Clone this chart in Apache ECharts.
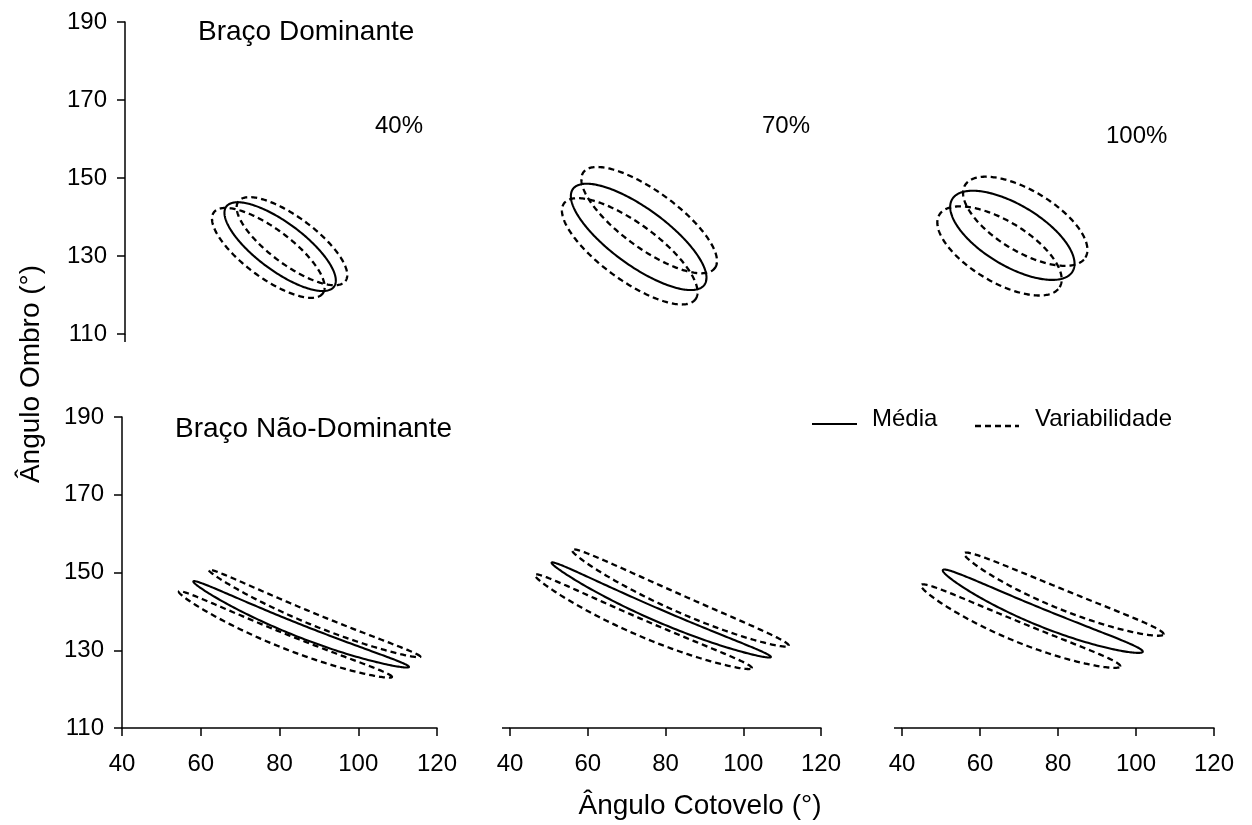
<!DOCTYPE html>
<html>
<head>
<meta charset="utf-8">
<script src="https://cdn.jsdelivr.net/npm/echarts@6/dist/echarts.min.js"></script>
<style>
  html, body { margin: 0; padding: 0; background: #fff; }
  #chart { width: 1252px; height: 825px; }
</style>
</head>
<body>
<div id="chart"></div>
<script>
// Load levels, one column each
const loadLevels = ['40%', '70%', '100%'];
const armNames = ['Braço Dominante', 'Braço Não-Dominante'];
const xTicks = [40, 60, 80, 100, 120];   // Ângulo Cotovelo (°)
const yTicks = [110, 130, 150, 170, 190]; // Ângulo Ombro (°)

// Ellipses in degrees: [elbow centre, shoulder centre, semi-major, semi-minor, tilt, bend]
const domMean = [
  [79.4, 132.4, 17.1, 6.1, -37, 0],
  [73.1, 134.9, 20.9, 7.3, -36, 0],
  [68.3, 135.3, 18.0, 7.8, -31, 0]
];
const domVarUpper = [
  [82.4, 133.8, 17.0, 6.0, -37, 0],
  [75.8, 139.2, 20.9, 7.3, -36, 0],
  [71.6, 138.9, 18.0, 7.8, -31, 0]
];
const domVarLower = [
  [76.4, 130.8, 17.3, 6.2, -37, 0],
  [70.8, 131.2, 20.9, 7.3, -36, 0],
  [65.0, 131.3, 18.0, 7.8, -31, 0]
];
const nonDomMean = [
  [85.5, 136.7, 29.5, 1.6, -21.9, 1.7],
  [78.9, 140.4, 30.7, 1.6, -23.3, 1.6],
  [76.1, 140.1, 27.7, 2.2, -22.3, 1.7]
];
const nonDomVarUpper = [
  [88.9, 139.5, 29.1, 1.5, -22.6, 1.5],
  [83.8, 143.5, 30.5, 2.2, -23.9, 1.4],
  [81.5, 144.5, 27.6, 2.5, -22.2, 1.5]
];
const nonDomVarLower = [
  [81.5, 134.1, 29.2, 1.8, -22.1, 1.7],
  [74.3, 137.4, 30.4, 2.1, -23.3, 1.7],
  [70.4, 136.3, 27.6, 2.5, -22.3, 1.7]
];

const FONT = '"Liberation Sans", Arial, sans-serif';

// Panel layout: two rows (arms) by three columns (load levels)
const colLeft = [[125, 510, 902], [122, 510, 902]];
const colWidth = [[315, 311, 312], [315, 311, 312]];
const rowTop = [22, 417];
const rowHeight = [312, 311];

// Outline of a (possibly bent) ellipse, traced through the axis scales
function ellipseRenderer(dashed) {
  return function (params, api) {
    const cx = api.value(0), cy = api.value(1);
    const a = api.value(2), b = api.value(3);
    const phi = api.value(4) * Math.PI / 180;
    const bend = api.value(5);
    const c = Math.cos(phi), s = Math.sin(phi);
    const pts = [];
    const n = 240;
    for (let k = 0; k < n; k++) {
      const t = 2 * Math.PI * k / n;
      const u = Math.cos(t), v = Math.sin(t);
      const along = a * u;
      const across = b * v - bend * (1 - u * u);
      pts.push(api.coord([cx + along * c - across * s, cy + along * s + across * c]));
    }
    return {
      type: 'polygon',
      shape: { points: pts },
      style: {
        fill: 'none',
        stroke: '#000',
        lineWidth: dashed ? 2.3 : 2.1,
        lineDash: dashed ? [6, 4] : null
      }
    };
  };
}

const grids = [], xAxes = [], yAxes = [], series = [];
const rows = [
  [domMean, domVarUpper, domVarLower],
  [nonDomMean, nonDomVarUpper, nonDomVarLower]
];

const axisLine = { show: true, lineStyle: { color: '#000', width: 1.5 } };
const axisTick = { show: true, inside: false, length: 8, lineStyle: { color: '#000', width: 1.5 } };
const labelStyle = { color: '#000', fontSize: 24, fontFamily: FONT };

for (let r = 0; r < 2; r++) {
  for (let c = 0; c < 3; c++) {
    const idx = grids.length;
    grids.push({
      left: colLeft[r][c], top: rowTop[r],
      width: colWidth[r][c], height: rowHeight[r],
      containLabel: false, outerBoundsMode: 'none'
    });
    const xMin = xTicks[0], xMax = xTicks[xTicks.length - 1];
    const yMin = yTicks[0], yMax = yTicks[yTicks.length - 1];
    // x axis: full in the lower row; in the upper-left panel only the origin tick remains
    let xa;
    if (r === 1) {
      xa = { show: true, axisLine, axisTick, axisLabel: Object.assign({ margin: 24 }, labelStyle) };
    } else if (c === 0) {
      xa = { show: true, axisLine: { show: false },
             axisTick: Object.assign({}, axisTick, { customValues: [xMin] }),
             axisLabel: { show: false } };
    } else {
      xa = { show: false };
    }
    xAxes.push(Object.assign({
      type: 'value', gridIndex: idx, min: xMin, max: xMax, interval: 20,
      splitLine: { show: false }
    }, xa));
    // y axis: full in the left column; lower-row panels keep only the origin tick
    let ya;
    if (c === 0) {
      ya = { show: true, axisLine, axisTick, axisLabel: Object.assign({ margin: 18 }, labelStyle) };
    } else if (r === 1) {
      ya = { show: true, axisLine: { show: false },
             axisTick: Object.assign({}, axisTick, { customValues: [yMin] }),
             axisLabel: { show: false } };
    } else {
      ya = { show: false };
    }
    yAxes.push(Object.assign({
      type: 'value', gridIndex: idx, min: yMin, max: yMax, interval: 20,
      splitLine: { show: false }
    }, ya));
    const [mean, up, low] = rows[r];
    series.push(
      { type: 'custom', name: 'Média', xAxisIndex: idx, yAxisIndex: idx,
        renderItem: ellipseRenderer(false), data: [mean[c]], silent: true },
      { type: 'custom', name: 'Variabilidade', xAxisIndex: idx, yAxisIndex: idx,
        renderItem: ellipseRenderer(true), data: [up[c], low[c]], silent: true }
    );
  }
}

function label(text, x, y, size, extra) {
  return Object.assign({
    type: 'text', x, y,
    style: {
      text, fill: '#000', fontSize: size, fontFamily: FONT,
      textAlign: 'left', textVerticalAlign: 'middle'
    },
    silent: true
  }, extra || {});
}

const graphic = [
  label(armNames[0], 198, 32, 28),
  label(armNames[1], 175, 429, 28),
  label(loadLevels[0], 375, 126, 24),
  label(loadLevels[1], 762, 126, 24),
  label(loadLevels[2], 1106, 136, 24),
  {
    type: 'text', x: 700, y: 806, silent: true,
    style: { text: 'Ângulo Cotovelo (°)', fill: '#000', fontSize: 28, fontFamily: FONT,
             textAlign: 'center', textVerticalAlign: 'middle' }
  },
  {
    type: 'text', x: 31, y: 374, rotation: Math.PI / 2, silent: true,
    style: { text: 'Ângulo Ombro (°)', fill: '#000', fontSize: 28, fontFamily: FONT,
             textAlign: 'center', textVerticalAlign: 'middle' }
  },
  // legend
  { type: 'line', silent: true, shape: { x1: 812, y1: 424, x2: 857, y2: 424 },
    style: { stroke: '#000', lineWidth: 2.1 } },
  label('Média', 872, 419, 24),
  { type: 'line', silent: true, shape: { x1: 975, y1: 426, x2: 1019, y2: 426 },
    style: { stroke: '#000', lineWidth: 2.3, lineDash: [6, 4] } },
  label('Variabilidade', 1035, 419, 24)
];

const chart = echarts.init(document.getElementById('chart'), null, { renderer: 'canvas' });
chart.setOption({
  animation: false,
  backgroundColor: '#fff',
  grid: grids,
  xAxis: xAxes,
  yAxis: yAxes,
  series,
  graphic
});
</script>
</body>
</html>
